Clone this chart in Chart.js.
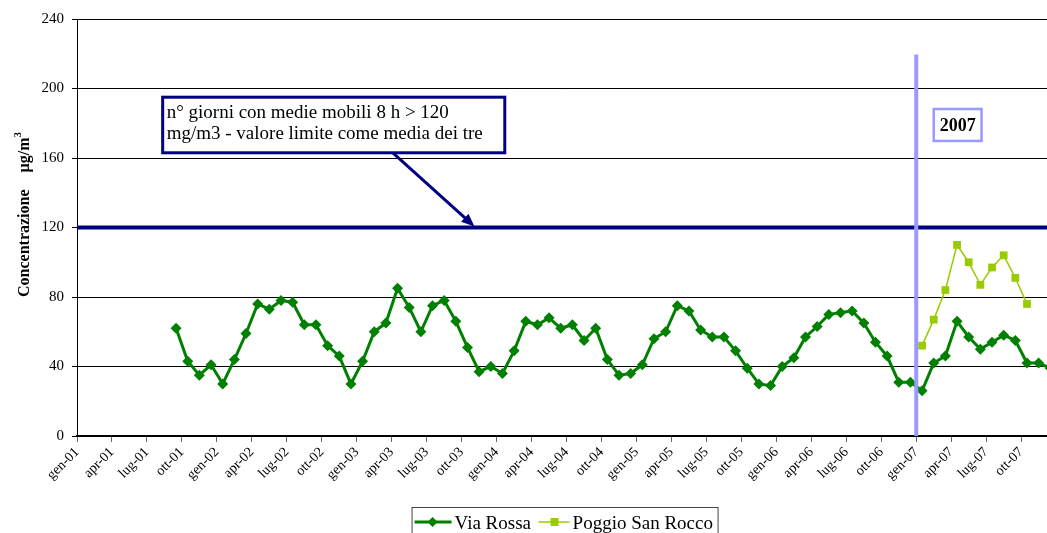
<!DOCTYPE html>
<html><head><meta charset="utf-8">
<script src="https://cdn.jsdelivr.net/npm/chart.js@4.4.0/dist/chart.umd.min.js"></script>
<style>
html,body{margin:0;padding:0;overflow:hidden;background:#fff;width:1047px;height:533px}
#wrap{position:relative;width:1070px;height:533px}
</style>
</head><body>
<div id="wrap"><canvas id="c" width="1070" height="533"></canvas></div>
<script>
// ---- data ----
const monthNames = ['gen','feb','mar','apr','mag','giu','lug','ago','set','ott','nov','dic'];
const years = ['01','02','03','04','05','06','07'];
const categories = [];
years.forEach(yy => monthNames.forEach(m => categories.push(m + '-' + yy)));
const tickLabels = ['gen-01','apr-01','lug-01','ott-01','gen-02','apr-02','lug-02','ott-02',
  'gen-03','apr-03','lug-03','ott-03','gen-04','apr-04','lug-04','ott-04',
  'gen-05','apr-05','lug-05','ott-05','gen-06','apr-06','lug-06','ott-06',
  'gen-07','apr-07','lug-07','ott-07'];
const yTicks = [0, 40, 80, 120, 160, 200, 240];

const viaRossaStart = 'set-01';
const viaRossa = [62,43,35,41,
  30,44,59,76,73,78,77,64,64,52,46,30,
  43,60,65,85,74,60,75,78,66,51,37,40,
  36,49,66,64,68,62,64,55,62,44,35,36,
  41,56,60,75,72,61,57,57,49,39,30,29,
  40,45,57,63,70,71,72,65,54,46,31,31,
  26,42,46,66,57,50,54,58,55,42,42,39];
const poggioStart = 'gen-07';
const poggio = [52,67,84,110,100,87,97,104,91,76];

const limitValue = 120;
const limitText = ['n\u00B0 giorni con medie mobili 8 h > 120', 'mg/m3 - valore limite come media dei tre'];
const yearText = '2007';
const seriesNames = ['Via Rossa', 'Poggio San Rocco'];
const yTitleParts = ['Concentrazione', '\u00B5g/m', '3'];

function toPoints(arr, start) {
  const s = categories.indexOf(start);
  return arr.map((v, k) => ({ x: s + k + 0.5, y: v }));
}

const SERIF = '"Liberation Serif", "Times New Roman", serif';
const GREEN = '#008000', LIME = '#99CC00', NAVY = '#000080', LAV = '#9999FF';

const overlay = {
  id: 'overlay',
  afterDatasetsDraw(chart) {
    const { ctx, chartArea: a, scales: { x, y } } = chart;
    ctx.save();
    // limit line
    const yl = y.getPixelForValue(limitValue);
    ctx.strokeStyle = NAVY; ctx.lineWidth = 4;
    ctx.beginPath(); ctx.moveTo(a.left, yl); ctx.lineTo(a.right, yl); ctx.stroke();
    // vertical line start of 2007
    const xv = x.getPixelForValue(categories.indexOf('gen-07'));
    ctx.strokeStyle = LAV; ctx.lineWidth = 4;
    ctx.beginPath(); ctx.moveTo(xv, y.getPixelForValue(219.5)); ctx.lineTo(xv, a.bottom); ctx.stroke();
    // 2007 box
    const bx1 = x.getPixelForValue(73.5), bx2 = x.getPixelForValue(77.6);
    const by1 = y.getPixelForValue(188.2), by2 = y.getPixelForValue(169.8);
    ctx.fillStyle = '#fff'; ctx.fillRect(bx1, by1, bx2 - bx1, by2 - by1);
    ctx.strokeStyle = LAV; ctx.lineWidth = 2.5; ctx.strokeRect(bx1, by1, bx2 - bx1, by2 - by1);
    ctx.fillStyle = '#000'; ctx.font = 'bold 18px ' + SERIF; ctx.textAlign = 'center'; ctx.textBaseline = 'middle';
    ctx.fillText(yearText, (bx1 + bx2) / 2, (by1 + by2) / 2 + 1);
    // annotation arrow
    const ax1 = x.getPixelForValue(27.1), ay1 = y.getPixelForValue(163);
    const ax2 = x.getPixelForValue(34.1), ay2 = y.getPixelForValue(120.6);
    const ang = Math.atan2(ay2 - ay1, ax2 - ax1);
    ctx.strokeStyle = NAVY; ctx.fillStyle = NAVY; ctx.lineWidth = 3;
    ctx.beginPath(); ctx.moveTo(ax1, ay1);
    ctx.lineTo(ax2 - 8 * Math.cos(ang), ay2 - 8 * Math.sin(ang)); ctx.stroke();
    ctx.beginPath();
    ctx.moveTo(ax2, ay2);
    ctx.lineTo(ax2 - 13 * Math.cos(ang) + 5.5 * Math.sin(ang), ay2 - 13 * Math.sin(ang) - 5.5 * Math.cos(ang));
    ctx.lineTo(ax2 - 13 * Math.cos(ang) - 5.5 * Math.sin(ang), ay2 - 13 * Math.sin(ang) + 5.5 * Math.cos(ang));
    ctx.closePath(); ctx.fill();
    // annotation box
    const tx1 = x.getPixelForValue(7.35), tx2 = x.getPixelForValue(36.7);
    const ty1 = y.getPixelForValue(195.0), ty2 = y.getPixelForValue(163.0);
    ctx.fillStyle = '#fff'; ctx.fillRect(tx1, ty1, tx2 - tx1, ty2 - ty1);
    ctx.strokeStyle = NAVY; ctx.lineWidth = 3; ctx.strokeRect(tx1, ty1, tx2 - tx1, ty2 - ty1);
    ctx.fillStyle = '#000'; ctx.font = '19px ' + SERIF; ctx.textAlign = 'left'; ctx.textBaseline = 'alphabetic';
    ctx.fillText(limitText[0], tx1 + 4, ty1 + 21);
    ctx.fillText(limitText[1], tx1 + 4, ty1 + 42);
    ctx.restore();
  },
  afterDraw(chart) {
    const { ctx, chartArea: a, scales: { y } } = chart;
    ctx.save();
    // y axis title (rotated)
    ctx.translate(29, y.getPixelForValue(127.5));
    ctx.rotate(-Math.PI / 2);
    ctx.fillStyle = '#000'; ctx.textBaseline = 'alphabetic'; ctx.textAlign = 'left';
    ctx.font = 'bold 16px ' + SERIF;
    const w1 = ctx.measureText(yTitleParts[0]).width;
    const gap = 17;
    const w2 = ctx.measureText(yTitleParts[1]).width;
    ctx.font = 'bold 11px ' + SERIF;
    const w3 = ctx.measureText(yTitleParts[2]).width;
    const total = w1 + gap + w2 + w3;
    let sx = -total / 2;
    ctx.font = 'bold 16px ' + SERIF;
    ctx.fillText(yTitleParts[0], sx, 0); sx += w1 + gap;
    ctx.fillText(yTitleParts[1], sx, 0); sx += w2;
    ctx.font = 'bold 11px ' + SERIF;
    ctx.fillText(yTitleParts[2], sx, -8);
    ctx.restore();

    // legend
    ctx.save();
    const cx = (a.left + a.right) / 2;
    const left = cx - 155, top = 507;
    ctx.fillStyle = '#fff'; ctx.fillRect(left, top, 306, 40);
    ctx.strokeStyle = '#444'; ctx.lineWidth = 1;
    ctx.strokeRect(left + 0.5, top + 0.5, 306, 40);
    const ly = top + 15;
    ctx.strokeStyle = GREEN; ctx.lineWidth = 3;
    ctx.beginPath(); ctx.moveTo(left + 3, ly); ctx.lineTo(left + 40, ly); ctx.stroke();
    ctx.fillStyle = GREEN;
    ctx.beginPath(); ctx.moveTo(left + 21, ly - 5); ctx.lineTo(left + 26, ly); ctx.lineTo(left + 21, ly + 5); ctx.lineTo(left + 16, ly); ctx.closePath(); ctx.fill();
    ctx.fillStyle = '#000'; ctx.font = '19px ' + SERIF; ctx.textBaseline = 'alphabetic'; ctx.textAlign = 'left';
    ctx.fillText(seriesNames[0], left + 43, ly + 6.5);
    ctx.strokeStyle = LIME; ctx.lineWidth = 1.5;
    ctx.beginPath(); ctx.moveTo(left + 127, ly); ctx.lineTo(left + 158, ly); ctx.stroke();
    ctx.fillStyle = LIME; ctx.fillRect(left + 139, ly - 4, 8, 8);
    ctx.fillStyle = '#000';
    ctx.fillText(seriesNames[1], left + 161, ly + 6.5);
    ctx.restore();
  }
};

new Chart(document.getElementById('c'), {
  type: 'line',
  data: {
    datasets: [
      { label: seriesNames[0], data: toPoints(viaRossa, viaRossaStart), borderColor: GREEN, backgroundColor: GREEN,
        borderWidth: 3, pointStyle: 'rectRot', pointRadius: 5.5, pointHoverRadius: 5.5, pointBorderWidth: 0, tension: 0 },
      { label: seriesNames[1], data: toPoints(poggio, poggioStart), borderColor: LIME, backgroundColor: LIME,
        borderWidth: 1.5, pointStyle: 'rect', pointRadius: 5.5, pointHoverRadius: 5.5, pointBorderWidth: 0, tension: 0 }
    ]
  },
  options: {
    responsive: false, animation: false,
    layout: { padding: { left: 0, right: 5, top: 19, bottom: 0 } },
    plugins: { legend: { display: false }, tooltip: { enabled: false } },
    scales: {
      x: {
        type: 'linear', min: 0, max: categories.length,
        afterFit(s) { s.height = 97; },
        border: { color: '#000', width: 2 },
        grid: { drawOnChartArea: false, drawTicks: true, tickLength: 6, color: '#666', lineWidth: 1 },
        ticks: {
          stepSize: 3, autoSkip: false, minRotation: 45, maxRotation: 45, padding: 2,
          color: '#000', font: { family: SERIF, size: 14 },
          callback: (v) => (v % 3 === 0 && tickLabels[v / 3]) ? tickLabels[v / 3] : ''
        }
      },
      y: {
        min: 0, max: 240,
        afterFit(s) { s.width = 77; },
        afterBuildTicks(s) { s.ticks = yTicks.map(v => ({ value: v })); },
        border: { color: '#000', width: 1 },
        grid: { color: '#000', lineWidth: 1, tickLength: 5, drawTicks: true },
        ticks: { color: '#000', padding: 8, font: { family: SERIF, size: 15 } }
      }
    }
  },
  plugins: [overlay]
});
</script>
</body></html>
